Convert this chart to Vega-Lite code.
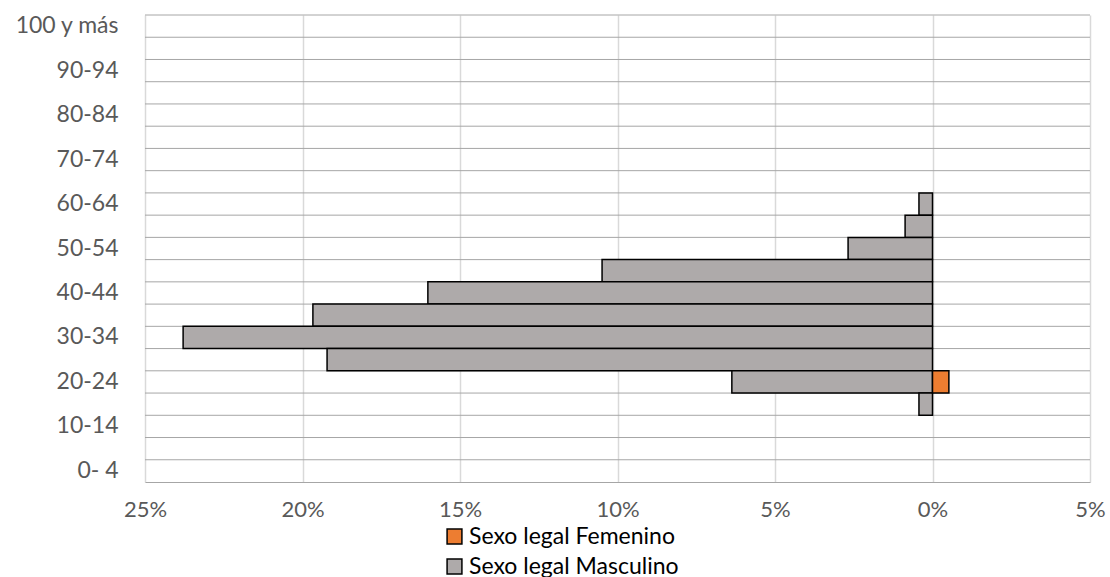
{
  "$schema": "https://vega.github.io/schema/vega-lite/v6.json",
  "width": 945,
  "height": 467,
  "autosize": {"type": "none"},
  "padding": {"left": 145, "top": 15, "right": 20, "bottom": 95},
  "background": "white",
  "config": {
    "font": "Lato",
    "view": {"stroke": null}
  },
  "datasets": {
    "ages": [
      {"age": "100 y más"}, {"age": "95-99"}, {"age": "90-94"}, {"age": "85-89"},
      {"age": "80-84"}, {"age": "75-79"}, {"age": "70-74"}, {"age": "65-69"},
      {"age": "60-64"}, {"age": "55-59"}, {"age": "50-54"}, {"age": "45-49"},
      {"age": "40-44"}, {"age": "35-39"}, {"age": "30-34"}, {"age": "25-29"},
      {"age": "20-24"}, {"age": "15-19"}, {"age": "10-14"}, {"age": "5- 9"},
      {"age": "0- 4"}
    ],
    "bars": [
      {"age": "60-64", "sexo": "Sexo legal Masculino", "pct": -0.43},
      {"age": "55-59", "sexo": "Sexo legal Masculino", "pct": -0.87},
      {"age": "50-54", "sexo": "Sexo legal Masculino", "pct": -2.68},
      {"age": "45-49", "sexo": "Sexo legal Masculino", "pct": -10.49},
      {"age": "40-44", "sexo": "Sexo legal Masculino", "pct": -16.02},
      {"age": "35-39", "sexo": "Sexo legal Masculino", "pct": -19.67},
      {"age": "30-34", "sexo": "Sexo legal Masculino", "pct": -23.79},
      {"age": "25-29", "sexo": "Sexo legal Masculino", "pct": -19.22},
      {"age": "20-24", "sexo": "Sexo legal Masculino", "pct": -6.37},
      {"age": "15-19", "sexo": "Sexo legal Masculino", "pct": -0.43},
      {"age": "20-24", "sexo": "Sexo legal Femenino", "pct": 0.52}
    ]
  },
  "layer": [
    {
      "data": {"name": "ages"},
      "mark": {"type": "rule", "color": "#a6a6a6", "strokeWidth": 1},
      "encoding": {
        "y": {
          "field": "age", "type": "nominal", "bandPosition": 0,
          "scale": {
            "domain": ["100 y más","95-99","90-94","85-89","80-84","75-79","70-74","65-69","60-64","55-59","50-54","45-49","40-44","35-39","30-34","25-29","20-24","15-19","10-14","5- 9","0- 4"],
            "paddingInner": 0, "paddingOuter": 0
          },
          "axis": {
            "title": null, "domain": false, "ticks": false, "grid": false,
            "labelPadding": 27, "labelFontSize": 23, "labelColor": "#595959", "labelFont": "Lato",
            "labelExpr": "indexof(['100 y más','90-94','80-84','70-74','60-64','50-54','40-44','30-34','20-24','10-14','0- 4'], datum.label) >= 0 ? datum.label : ''"
          }
        }
      }
    },
    {
      "data": {"name": "bars"},
      "mark": {"type": "bar", "stroke": "black", "strokeWidth": 1.5},
      "encoding": {
        "y": {
          "field": "age", "type": "nominal",
          "scale": {
            "domain": ["100 y más","95-99","90-94","85-89","80-84","75-79","70-74","65-69","60-64","55-59","50-54","45-49","40-44","35-39","30-34","25-29","20-24","15-19","10-14","5- 9","0- 4"],
            "paddingInner": 0, "paddingOuter": 0
          },
          "axis": {
            "title": null, "domain": false, "ticks": false, "grid": false,
            "labelPadding": 27, "labelFontSize": 23, "labelColor": "#595959", "labelFont": "Lato",
            "labelExpr": "indexof(['100 y más','90-94','80-84','70-74','60-64','50-54','40-44','30-34','20-24','10-14','0- 4'], datum.label) >= 0 ? datum.label : ''"
          }
        },
        "x": {
          "field": "pct", "type": "quantitative",
          "scale": {"domain": [-25, 5], "nice": false, "zero": false},
          "axis": {
            "title": null, "values": [-25, -20, -15, -10, -5, 0, 5],
            "labelExpr": "abs(datum.value) + '%'",
            "grid": true, "gridColor": "#d9d9d9", "gridWidth": 1.5,
            "domain": true, "domainColor": "#a6a6a6", "domainWidth": 1,
            "ticks": false, "labelPadding": 17, "labelFontSize": 22,
            "labelColor": "#595959", "labelFont": "Lato", "labelFlush": false
          }
        },
        "color": {
          "field": "sexo", "type": "nominal",
          "scale": {"domain": ["Sexo legal Femenino", "Sexo legal Masculino"], "range": ["#ED7D31", "#AEAAAA"]},
          "legend": {
            "title": null, "orient": "none", "direction": "vertical",
            "legendX": 298, "legendY": 510,
            "symbolType": "square", "symbolSize": 220, "symbolStrokeColor": "black", "symbolStrokeWidth": 1.5,
            "labelFontSize": 23, "labelColor": "#000000", "labelFont": "Lato", "labelOffset": 3,
            "labelLimit": 400, "rowPadding": 6, "symbolOpacity": 1
          }
        }
      }
    }
  ]
}
